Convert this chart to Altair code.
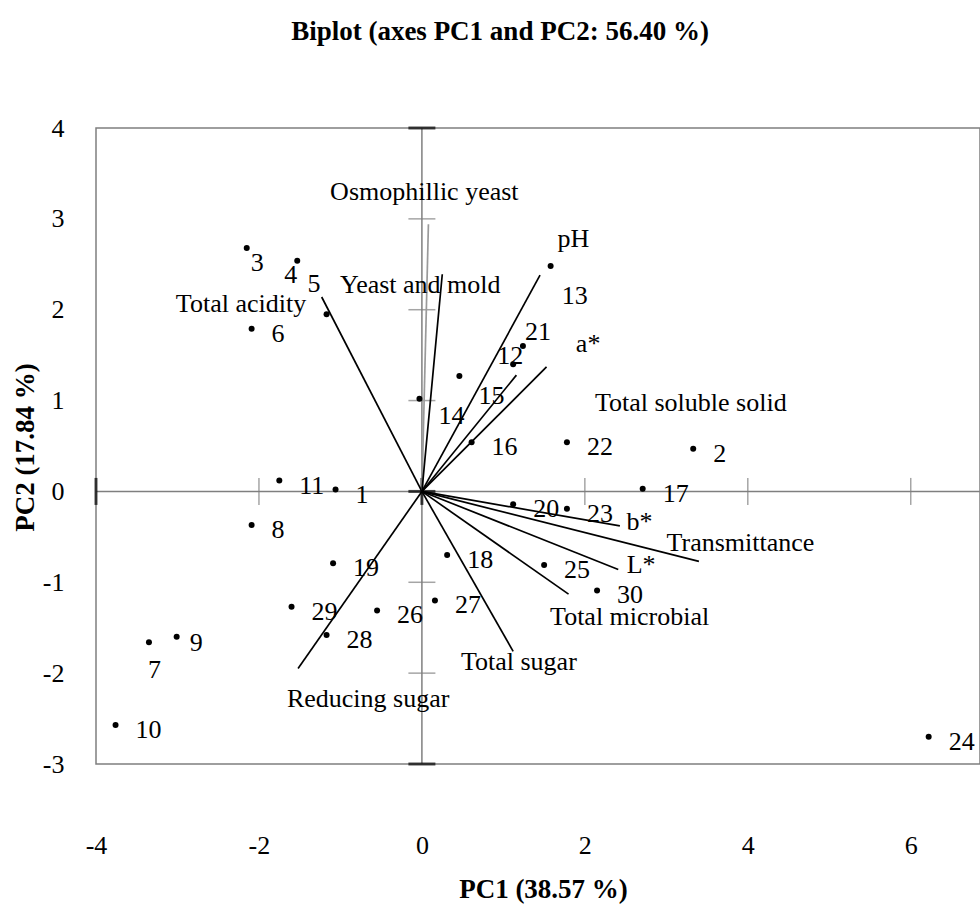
import altair as alt
import pandas as pd

# Scores of the 30 samples on PC1 / PC2
obs_ids = [str(i) for i in range(1, 31)]
pc1 = [-1.06, 3.33, -2.15, -1.53, -1.17, -2.09, -3.35, -2.09, -3.01, -3.76,
       -1.75, 1.12, 1.58, -0.03, 0.46, 0.61, 2.71, 0.31, -1.09, 1.12,
       1.24, 1.78, 1.78, 6.22, 1.50, -0.55, 0.16, -1.17, -1.60, 2.15]
pc2 = [0.02, 0.47, 2.68, 2.54, 1.95, 1.79, -1.66, -0.37, -1.60, -2.57,
       0.12, 1.40, 2.48, 1.02, 1.27, 0.54, 0.03, -0.70, -0.79, -0.14,
       1.60, 0.54, -0.19, -2.70, -0.81, -1.31, -1.20, -1.58, -1.27, -1.09]

# Loadings of the measured variables (vector tips)
var_names = ["Total acidity", "Osmophillic yeast", "Yeast and mold", "pH", "a*",
             "Total soluble solid", "b*", "Transmittance", "L*", "Total microbial",
             "Total sugar", "Reducing sugar"]
var_pc1 = [-1.23, 0.08, 0.25, 1.45, 1.53, 1.16, 2.43, 3.40, 2.41, 1.80, 1.12, -1.52]
var_pc2 = [2.14, 2.94, 2.39, 2.38, 1.37, 1.28, -0.38, -0.77, -0.86, -1.13, -1.76, -1.95]
# where each variable name is written
var_label_x = [-2.22, 0.03, -0.02, 1.86, 2.04, 3.30, 2.67, 3.91, 2.69, 2.55, 1.19, -0.66]
var_label_y = [1.97, 3.21, 2.18, 2.69, 1.54, 0.88, -0.42, -0.66, -0.90, -1.47, -1.96, -2.37]

x_ticks = [-4, -2, 0, 2, 4, 6]
y_ticks = [-3, -2, -1, 0, 1, 2, 3, 4]

# ---- layout -------------------------------------------------------------
W, H = 884, 636
XMIN, XMAX = -4, 6.85
YMIN, YMAX = -3, 4
PX_X = W / (XMAX - XMIN)
PX_Y = H / (YMAX - YMIN)
FONT = "Liberation Serif"
GRAY = "#7f7f7f"

# label placement of sample numbers (pixels right / down of the dot)
DEFAULT_OFF = (20, 5)
label_off = {"3": (4, 15), "4": (-13, 14), "5": (-19, -30), "7": (-1, 28),
             "9": (13, 6), "12": (-16, -8), "13": (11, 30), "14": (19, 17),
             "15": (19, 20), "21": (2, -14)}

obs = pd.DataFrame({"id": obs_ids, "pc1": pc1, "pc2": pc2})
obs["lx"] = [x + label_off.get(i, DEFAULT_OFF)[0] / PX_X for i, x in zip(obs_ids, pc1)]
obs["ly"] = [y - label_off.get(i, DEFAULT_OFF)[1] / PX_Y for i, y in zip(obs_ids, pc2)]

loads = pd.DataFrame({"name": var_names, "ex": var_pc1, "ey": var_pc2,
                      "lx": var_label_x, "ly": var_label_y})
loads["ox"] = 0.0
loads["oy"] = 0.0
loads["tone"] = ["minor" if n == "Osmophillic yeast" else "main" for n in var_names]

xscale = alt.Scale(domain=[XMIN, XMAX], nice=False, zero=False)
yscale = alt.Scale(domain=[YMIN, YMAX], nice=False, zero=False)

xaxis = alt.Axis(values=x_ticks, labelExpr="toString(datum.value)", domain=False,
                 ticks=False, tickSize=0, grid=False, labelFont=FONT, labelFontSize=26,
                 labelColor="black", labelPadding=68, labelFlush=False,
                 labelOverlap=False, labelBound=False,
                 titleFont=FONT, titleFontSize=27, titleFontWeight="bold",
                 titleColor="black", titleX=447, titleY=133,
                 titleBaseline="alphabetic", titleAlign="center")
yaxis = alt.Axis(values=y_ticks, labelExpr="toString(datum.value)", domain=False,
                 ticks=False, tickSize=0, grid=False, labelFont=FONT, labelFontSize=26,
                 labelColor="black", labelPadding=32, labelFlush=False,
                 labelOverlap=False, labelBound=False,
                 titleFont=FONT, titleFontSize=27, titleFontWeight="bold",
                 titleColor="black", titleX=-63, titleY=319, titleAngle=-90,
                 titleBaseline="alphabetic", titleAlign="center")


def xenc(field):
    return alt.X(f"{field}:Q", scale=xscale, axis=xaxis, title="PC1 (38.57 %)")


def yenc(field):
    return alt.Y(f"{field}:Q", scale=yscale, axis=yaxis, title="PC2 (17.84 %)")


zero = pd.DataFrame({"v": [0.0]})

# axis lines through the origin
h_line = alt.Chart(zero).mark_rule(color=GRAY, strokeWidth=1.5).encode(y=yenc("v"))
v_line = alt.Chart(zero).mark_rule(color=GRAY, strokeWidth=1.5).encode(x=xenc("v"))

# tick marks sitting on the axis lines
xt = pd.DataFrame({"t": [t for t in x_ticks if t not in (XMIN, 0)], "z": 0.0})
yt = pd.DataFrame({"t": [t for t in y_ticks if t not in (YMIN, YMAX, 0)], "z": 0.0})
x_tick_marks = alt.Chart(xt).mark_tick(orient="vertical", size=27, thickness=1.5,
                                       color=GRAY).encode(x=xenc("t"), y=yenc("z"))
y_tick_marks = alt.Chart(yt).mark_tick(orient="horizontal", size=27, thickness=1.5,
                                       color=GRAY).encode(x=xenc("z"), y=yenc("t"))

# axis ends and origin ticks are drawn heavier
end_v = pd.DataFrame({"x": [XMIN, 0.0], "y": [0.0, 0.0]})
end_h = pd.DataFrame({"x": [0.0, 0.0, 0.0], "y": [YMAX, YMIN, 0.0]})
end_v_marks = alt.Chart(end_v).mark_tick(orient="vertical", size=27, thickness=3,
                                         color="black").encode(x=xenc("x"), y=yenc("y"))
end_h_marks = alt.Chart(end_h).mark_tick(orient="horizontal", size=27, thickness=3,
                                         color="black").encode(x=xenc("x"), y=yenc("y"))

# variable vectors
vectors = alt.Chart(loads).mark_rule(strokeWidth=1.7).encode(
    x=xenc("ox"), y=yenc("oy"), x2="ex:Q", y2="ey:Q",
    color=alt.Color("tone:N", scale=alt.Scale(domain=["main", "minor"],
                                              range=["#000000", "#9a9a9a"]),
                    legend=None),
)
vector_labels = alt.Chart(loads).mark_text(
    font=FONT, fontSize=26, color="black", align="center", baseline="alphabetic"
).encode(x=xenc("lx"), y=yenc("ly"), text="name:N")

# sample points and their numbers
points = alt.Chart(obs).mark_circle(size=36, color="black", opacity=1).encode(
    x=xenc("pc1"), y=yenc("pc2"))
point_labels = alt.Chart(obs).mark_text(
    font=FONT, fontSize=26, color="black", align="left", baseline="middle"
).encode(x=xenc("lx"), y=yenc("ly"), text="id:N")

chart = alt.layer(
    h_line, v_line, x_tick_marks, y_tick_marks, end_v_marks, end_h_marks,
    vectors, vector_labels, points, point_labels,
).properties(
    width=W, height=H,
    background="white",
    autosize=alt.AutoSizeParams(type="none"),
    padding={"left": 96, "top": 128, "right": 0, "bottom": 143},
    title=alt.TitleParams(
        text="Biplot (axes PC1 and PC2: 56.40 %)", font=FONT, fontSize=27,
        fontWeight="bold", color="black", anchor="middle", dx=-38, offset=48,
        baseline="alphabetic",
    ),
).configure_view(stroke=GRAY, strokeWidth=1.5)

chart.save("out.html", embed_options={"renderer": "svg", "actions": False})
